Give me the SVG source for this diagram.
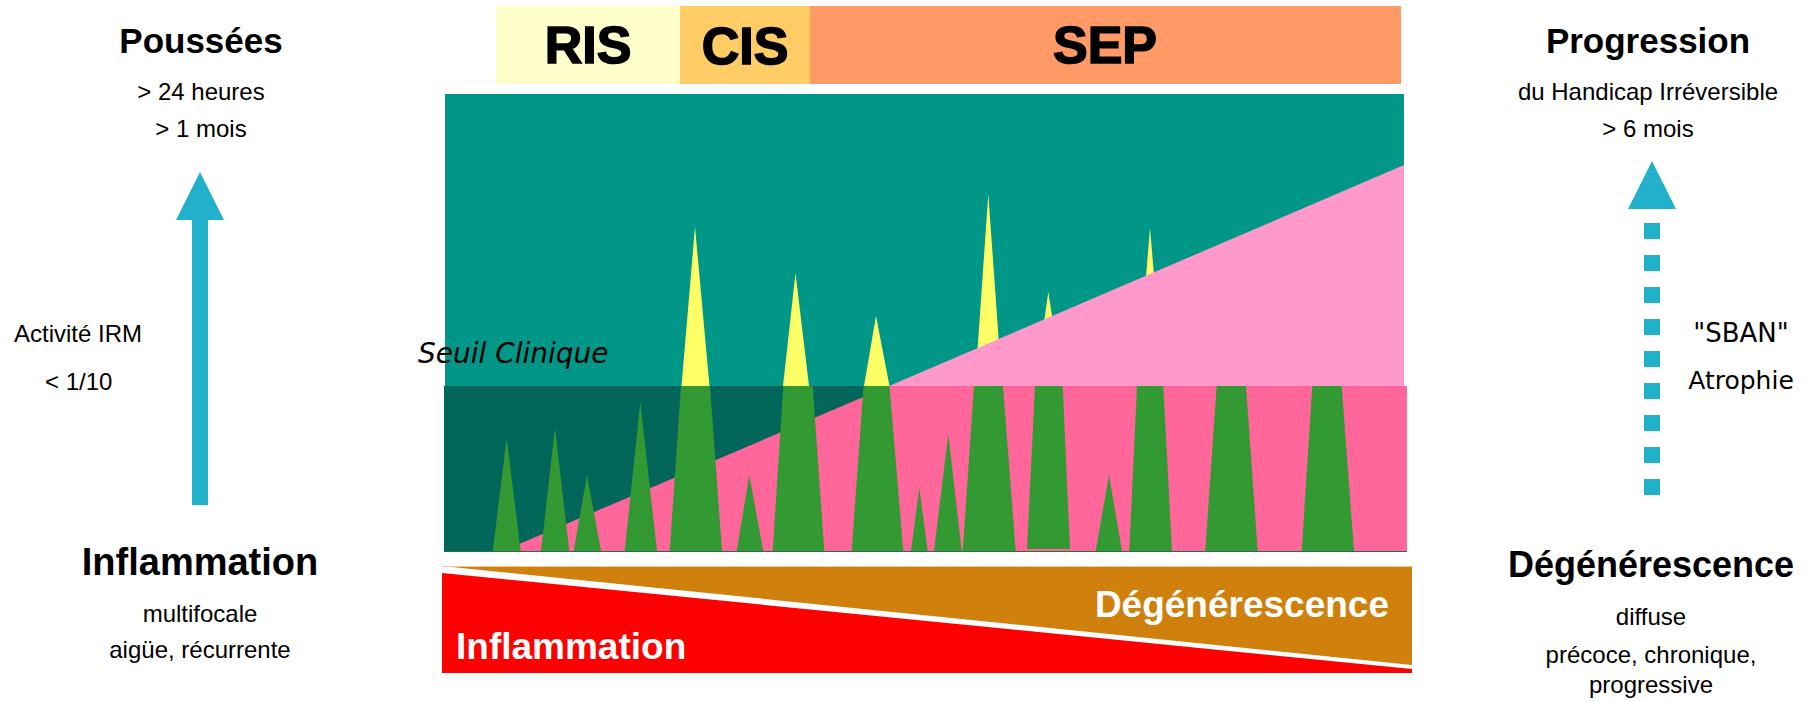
<svg xmlns="http://www.w3.org/2000/svg" width="1811" height="701" viewBox="0 0 1811 701">
<style>
.b{font-family:"Liberation Sans",Arial,sans-serif;font-weight:bold;fill:#000}
.p{font-family:"Liberation Sans",Arial,sans-serif;font-weight:bold;font-size:52px;fill:#000;stroke:#000;stroke-width:1.6px}
.t{font-family:"Liberation Sans",Arial,sans-serif;font-size:24px;fill:#000}
.h{font-family:"Comic Sans MS","DejaVu Sans",sans-serif;fill:#000}
.w{font-family:"Liberation Sans",Arial,sans-serif;font-weight:bold;font-size:37px;fill:#fff}
.y{fill:#FFFF66}
.g{fill:#339933}
.arr{fill:#21B1CA}
</style>
<rect width="1811" height="701" fill="#fff"/>

<g id="phases">
  <rect x="496" y="6" width="184" height="78" fill="#FFFFCC"/>
  <rect x="680" y="6" width="130" height="78" fill="#FFCC66"/>
  <rect x="810" y="6" width="591" height="78" fill="#FF9966"/>
  <text class="p" x="588" y="63" text-anchor="middle">RIS</text>
  <text class="p" x="745" y="64" text-anchor="middle">CIS</text>
  <text class="p" x="1105" y="63" text-anchor="middle">SEP</text>
</g>

<g id="chart">
  <rect x="445" y="94" width="959" height="292" fill="#019788"/>
  <g id="yellow-tips">
    <polygon class="y" points="695,227 681.5,386 709.5,386"/>
    <polygon class="y" points="795.5,273 783,386 809,386"/>
    <polygon class="y" points="876,316 864,386 889.5,386"/>
    <polygon class="y" points="988.3,194 975,386 1002,386"/>
    <polygon class="y" points="1048.3,292 1035,386 1063,386"/>
    <polygon class="y" points="1150,228 1137,386 1163.5,386"/>
  </g>
  <polygon points="889,386 1404,165 1404,386" fill="#FF99CC"/>
  <rect x="444" y="386" width="963" height="166" fill="#02665A"/>
  <polygon points="503,551 889,386 1407,386 1407,551" fill="#FF6699"/>
  <g id="green-spikes">
    <polygon class="g" points="506.7,438 492.7,551 520.7,551"/>
    <polygon class="g" points="555,428 541,551 569.3,551"/>
    <polygon class="g" points="587,475 573.7,551 601,551"/>
    <polygon class="g" points="640.3,402 624.7,551 657,551"/>
    <polygon class="g" points="681,386 710,386 722,551 669.7,551"/>
    <polygon class="g" points="749.3,475 736.7,551 763.3,551"/>
    <polygon class="g" points="783.3,386 812.7,386 824.3,551 772.7,551"/>
    <polygon class="g" points="863.5,386 889.5,386 903.3,551 851.7,551"/>
    <polygon class="g" points="919.3,488 911,551 927.7,551"/>
    <polygon class="g" points="948.3,434 934,551 961.7,551"/>
    <polygon class="g" points="974,386 1003,386 1015.7,551 962.7,551"/>
    <polygon class="g" points="1035,386 1062.7,386 1070,549 1027,549"/>
    <polygon class="g" points="1109,475 1095.7,551 1122,551"/>
    <polygon class="g" points="1137,386 1163.3,386 1172,551 1129.3,551"/>
    <polygon class="g" points="1216.7,386 1246,386 1257.7,551 1205.3,551"/>
    <polygon class="g" points="1312.3,386 1341.7,386 1354,551 1301.7,551"/>
  </g>
  <line x1="444" y1="551.5" x2="1407" y2="551.5" stroke="#2E6B4A" stroke-width="1"/>
  <text class="h" x="418" y="363" font-size="28" font-style="italic">Seuil Clinique</text>
</g>

<g id="balance">
  <polygon points="442,566 1412,566 1412,665" fill="#D0800C"/>
  <line x1="442" y1="566.5" x2="1412" y2="566.5" stroke="#E9C79A" stroke-width="1"/>
  <polygon points="442,573 1412,669 1412,673 442,673" fill="#FF0000"/>
  <text class="w" x="456" y="659">Inflammation</text>
  <text class="w" x="1389" y="617" text-anchor="end">Dégénérescence</text>
</g>

<g id="left-labels">
  <text class="b" x="201" y="53" font-size="35" text-anchor="middle">Poussées</text>
  <text class="t" x="201" y="100" text-anchor="middle">&gt; 24 heures</text>
  <text class="t" x="201" y="137" text-anchor="middle">&gt; 1 mois</text>
  <text class="t" x="14" y="342">Activité IRM</text>
  <text class="t" x="45" y="390">&lt; 1/10</text>
  <text class="b" x="200" y="575" font-size="38" text-anchor="middle">Inflammation</text>
  <text class="t" x="200" y="622" text-anchor="middle">multifocale</text>
  <text class="t" x="200" y="658" text-anchor="middle">aigüe, récurrente</text>
</g>

<g id="right-labels">
  <text class="b" x="1648" y="53" font-size="35" text-anchor="middle">Progression</text>
  <text class="t" x="1648" y="100" text-anchor="middle">du Handicap Irréversible</text>
  <text class="t" x="1648" y="137" text-anchor="middle">&gt; 6 mois</text>
  <text class="h" x="1741" y="342" font-size="26" text-anchor="middle">"SBAN"</text>
  <text class="h" x="1741" y="389" font-size="25" text-anchor="middle">Atrophie</text>
  <text class="b" x="1651" y="577" font-size="36" text-anchor="middle">Dégénérescence</text>
  <text class="t" x="1651" y="625" text-anchor="middle">diffuse</text>
  <text class="t" x="1651" y="663" text-anchor="middle">précoce, chronique,</text>
  <text class="t" x="1651" y="693" text-anchor="middle">progressive</text>
</g>

<g id="connectors">
  <g id="arrow-poussees">
    <rect class="arr" x="192" y="219" width="16" height="286"/>
    <polygon class="arr" points="176,220 200,172 224,220"/>
  </g>
  <g id="arrow-progression">
    <line x1="1652" y1="223" x2="1652" y2="495" stroke="#21B1CA" stroke-width="16" stroke-dasharray="16 16"/>
    <polygon class="arr" points="1628,209 1652,161 1676,209"/>
  </g>
</g>
</svg>
